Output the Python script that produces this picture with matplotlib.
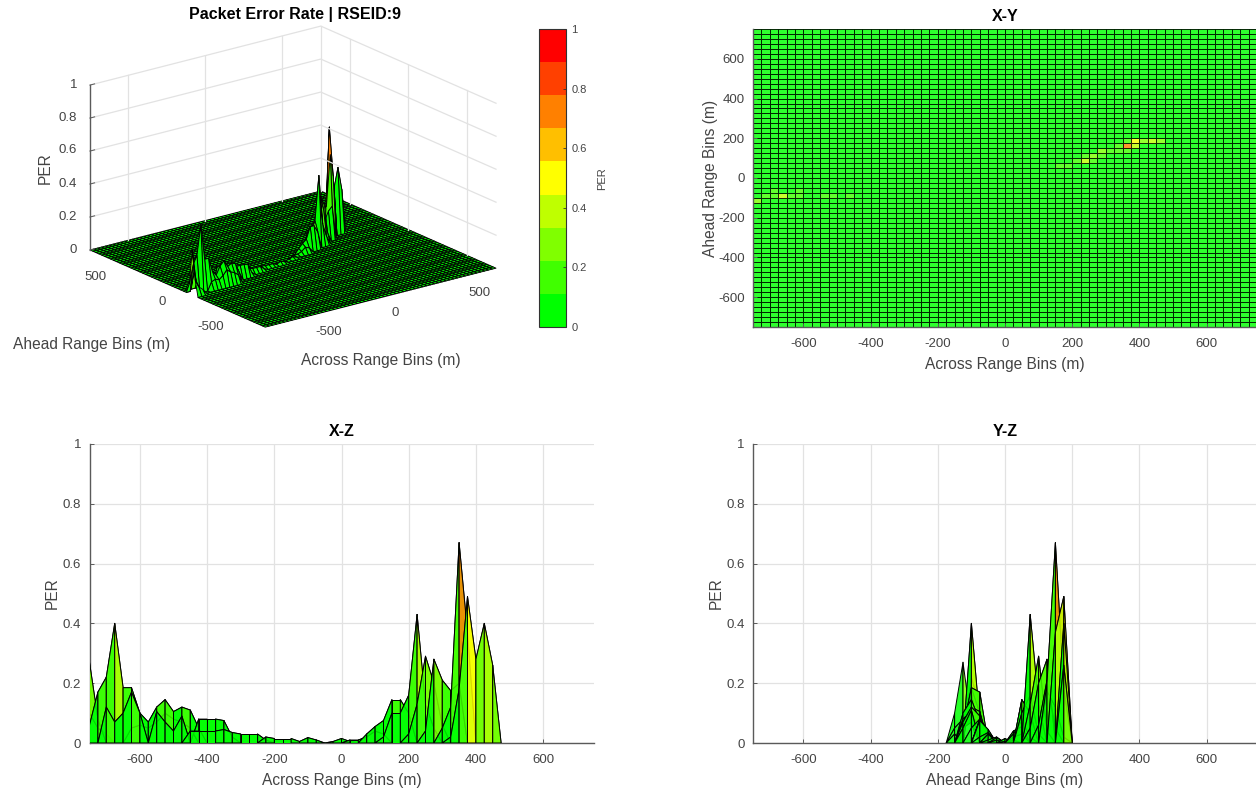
import numpy as np
import matplotlib
matplotlib.use('Agg')
from matplotlib import pyplot as plt
from matplotlib.colors import ListedColormap, Normalize
from matplotlib.cm import ScalarMappable
from matplotlib.collections import PolyCollection
from mpl_toolkits.mplot3d import proj3d

plt.rcParams['font.family'] = ['Liberation Sans', 'DejaVu Sans']
plt.rcParams['axes.unicode_minus'] = False

W, H = 1256, 792

bins = np.arange(-750, 751, 25)
per_colors = ['#00ff00', '#40ff00', '#80ff00', '#bfff00', '#ffff00',
              '#ffbf00', '#ff8000', '#ff4000', '#ff0000']
per_ticks = [0, 0.2, 0.4, 0.6, 0.8, 1]
per_ticklabels = ['0', '0.2', '0.4', '0.6', '0.8', '1']
range_ticks = [-600, -400, -200, 0, 200, 400, 600]

# non zero cells, one row of the surface per line (everything else is 0)
row_m150_x = [-750, -725, -700]
row_m150_per = [0.10, 0.05, 0.03]
row_m125_x = [-750, -725, -700, -625, -600, -575, -550, -525, -500, -475, -450]
row_m125_per = [0.27, 0.08, 0.0, 0.05, 0.06, 0.05, 0.07, 0.10, 0.08, 0.07, 0.05]
row_m100_x = [-750, -725, -700, -675, -650, -625, -600, -575, -550, -525, -500, -475, -450, -425]
row_m100_per = [0.06, 0.17, 0.22, 0.40, 0.185, 0.185, 0.10, 0.07, 0.12, 0.145, 0.105, 0.12, 0.11, 0.05]
row_m75_x = [-700, -675, -650, -625, -600, -575, -550, -525, -500, -475, -450, -425, -400, -375, -350, -325]
row_m75_per = [0.12, 0.07, 0.10, 0.17, 0.10, 0.0, 0.105, 0.07, 0.04, 0.09, 0.0, 0.08, 0.08, 0.08, 0.075, 0.02]
row_m50_x = [-450, -425, -400, -375, -350, -325, -300, -275, -250, -225]
row_m50_per = [0.04, 0.04, 0.04, 0.04, 0.045, 0.035, 0.03, 0.03, 0.03, 0.01]
row_m25_x = [-225, -200, -175, -150, -125, -100, -75, -50]
row_m25_per = [0.02, 0.015, 0.015, 0.015, 0.005, 0.018, 0.01, 0.0]
row_0_x = [-25, 0, 25]
row_0_per = [0.005, 0.015, 0.005]
row_p25_x = [25, 50, 75, 100, 125, 150]
row_p25_per = [0.01, 0.01, 0.02, 0.04, 0.03, 0.0]
row_p50_x = [75, 100, 125, 150, 175, 200, 225]
row_p50_per = [0.03, 0.055, 0.075, 0.145, 0.145, 0.10, 0.0]
row_p75_x = [125, 150, 175, 200, 225, 250, 275, 300]
row_p75_per = [0.02, 0.10, 0.10, 0.16, 0.43, 0.13, 0.05, 0.0]
row_p100_x = [200, 225, 250, 275, 300, 325]
row_p100_per = [0.03, 0.13, 0.29, 0.20, 0.06, 0.0]
row_p125_x = [250, 275, 300, 325, 350, 375]
row_p125_per = [0.04, 0.28, 0.21, 0.175, 0.20, 0.0]
row_p150_x = [300, 325, 350, 375, 400]
row_p150_per = [0.05, 0.12, 0.67, 0.37, 0.0]
row_p175_x = [325, 350, 375, 400, 425, 450, 475]
row_p175_per = [0.02, 0.18, 0.49, 0.28, 0.40, 0.26, 0.0]

rows = [(-150, row_m150_x, row_m150_per), (-125, row_m125_x, row_m125_per),
        (-100, row_m100_x, row_m100_per), (-75, row_m75_x, row_m75_per),
        (-50, row_m50_x, row_m50_per), (-25, row_m25_x, row_m25_per),
        (0, row_0_x, row_0_per), (25, row_p25_x, row_p25_per),
        (50, row_p50_x, row_p50_per), (75, row_p75_x, row_p75_per),
        (100, row_p100_x, row_p100_per), (125, row_p125_x, row_p125_per),
        (150, row_p150_x, row_p150_per), (175, row_p175_x, row_p175_per)]

Z = np.zeros((len(bins), len(bins)))
for row_y, row_x, row_per in rows:
    for x, p in zip(row_x, row_per):
        Z[np.searchsorted(bins, row_y), np.searchsorted(bins, x)] = p
X, Y = np.meshgrid(bins, bins)

cmap = ListedColormap(per_colors)
norm = Normalize(0, 1)
GRID = '#e2e2e2'
TXT = '#444444'
AXC = '#5a5a5a'


def px_axes(left, top, right, bottom, **kw):
    return fig.add_axes([left / W, 1 - bottom / H, (right - left) / W, (bottom - top) / H], **kw)


def px_text(x, y, s, **kw):
    kw.setdefault('ha', 'center')
    kw.setdefault('va', 'center')
    kw.setdefault('color', TXT)
    fig.text(x / W, 1 - y / H, s, **kw)


def style_2d(ax):
    for side in ['top', 'right']:
        ax.spines[side].set_visible(False)
    for side in ['left', 'bottom']:
        ax.spines[side].set_color(AXC)
        ax.spines[side].set_linewidth(1.0)
    ax.tick_params(direction='in', length=3, width=0.7, color=AXC, labelcolor=TXT,
                   labelsize=9.5, pad=6)
    ax.tick_params(axis='x', pad=8)
    ax.set_xlim(-750, 750)
    ax.set_xticks(range_ticks)


def side_view(ax, along, heights, xlabel, title):
    # surface seen edge on, last rows stay on top like in the original
    style_2d(ax)
    ax.set_ylim(0, 1)
    ax.set_yticks(per_ticks)
    ax.set_yticklabels(per_ticklabels)
    ax.grid(True, color=GRID, linewidth=0.9)
    ax.set_axisbelow(True)
    polys = []
    faces = []
    for j in range(len(bins) - 1):
        for i in range(len(bins) - 1):
            polys.append([(along[j, i], heights[j, i]), (along[j, i + 1], heights[j, i + 1]),
                          (along[j + 1, i + 1], heights[j + 1, i + 1]),
                          (along[j + 1, i], heights[j + 1, i])])
            faces.append(heights[j, i])
    face_rgba = cmap(norm(np.array(faces)))
    face_rgba[:, 3] = 0.85
    ax.add_collection(PolyCollection(polys, facecolors=face_rgba, edgecolors='k',
                                     linewidths=0.7, clip_on=True, zorder=3))
    ax.set_title(title, fontsize=11.5, fontweight='bold', color='k', pad=6)
    ax.set_xlabel(xlabel, fontsize=11.2, color=TXT, labelpad=5)
    ax.set_ylabel('PER', fontsize=11.2, color=TXT, labelpad=2)


fig = plt.figure(figsize=(W / 100, H / 100), dpi=100)

# surface
ax3 = px_axes(0, 0, 500, 500, projection='3d', proj_type='ortho', computed_zorder=False)
ax3.set_xlim(-750, 750, view_margin=0)
ax3.set_ylim(-750, 750, view_margin=0)
ax3.set_zlim(0, 1, view_margin=0)
ax3.view_init(elev=19.6, azim=-127.3)
ax3.set_box_aspect((290, 289, 175))
ax3.set_axis_off()


def corner_px(x, y, z):
    ax3.apply_aspect()
    xs, ys, _ = proj3d.proj_transform(x, y, z, ax3.get_proj())
    return ax3.transData.transform((xs, ys))


# fit the box on the wanted corners of the floor
left_c = corner_px(-750, 750, 0)
right_c = corner_px(750, -750, 0)
scale = (496 - 90) / (right_c[0] - left_c[0])
side = 500 * scale
ax3.set_position([0, 0, side / W, side / H])
left_c = corner_px(-750, 750, 0)
ax3.set_position([(90 - left_c[0]) / W, ((H - 250) - left_c[1]) / H, side / W, side / H])

for z in per_ticks[1:]:
    ax3.plot([-750, 750, 750], [750, 750, -750], [z, z, z], color=GRID, lw=0.9)
for t in [-500, 0, 500]:
    ax3.plot([t, t], [750, 750], [0, 1], color=GRID, lw=0.9)
    ax3.plot([750, 750], [t, t], [0, 1], color=GRID, lw=0.9)
ax3.plot([750, 750], [750, 750], [0, 1], color=GRID, lw=0.9)
ax3.plot([-750, -750], [750, 750], [0, 1], color=AXC, lw=1.0)
for z in per_ticks:
    ax3.plot([-750, -720], [750, 750], [z, z], color=AXC, lw=0.7)
ax3.plot_surface(X, Y, Z, facecolors=cmap(norm(Z)), rstride=1, cstride=1, shade=False,
                 edgecolor='k', linewidth=0.65, antialiased=True)

px_text(295, 15, 'Packet Error Rate | RSEID:9', fontsize=11.5, fontweight='bold', color='k')
for z_lab, y_px in zip(per_ticklabels, [250, 217, 184, 150, 118, 85]):
    px_text(77, y_px, z_lab, fontsize=9.5, ha='right')
for s, x_px, y_px in [('500', 95, 277), ('0', 162, 302), ('-500', 211, 327),
                      ('-500', 329, 332), ('0', 395, 313), ('500', 479, 293)]:
    px_text(x_px, y_px, s, fontsize=9.5)
px_text(92, 344, 'Ahead Range Bins (m)', fontsize=11.2)
px_text(381, 360, 'Across Range Bins (m)', fontsize=11.2)
px_text(45, 168, 'PER', fontsize=11.2, rotation=90)

# colorbar
cax = px_axes(539, 29, 566, 327)
cb = fig.colorbar(ScalarMappable(norm=norm, cmap=cmap), cax=cax, ticks=per_ticks)
cb.ax.set_yticklabels(per_ticklabels)
cb.ax.tick_params(direction='in', length=2.5, width=0.6, color='#333333', labelcolor=TXT,
                  labelsize=8, pad=4)
cb.outline.set_edgecolor('#333333')
cb.outline.set_linewidth(0.8)
px_text(602, 179, 'PER', fontsize=8, rotation=90)

# X-Y
ax_xy = px_axes(753, 29, 1257, 327)
style_2d(ax_xy)
ax_xy.set_ylim(-750, 750)
ax_xy.set_yticks(range_ticks)
ax_xy.pcolormesh(X, Y, Z[:-1, :-1], cmap=cmap, norm=norm, edgecolors='k', linewidth=0.7,
                 alpha=0.82)
ax_xy.set_title('X-Y', fontsize=11.5, fontweight='bold', color='k', pad=6)
ax_xy.set_xlabel('Across Range Bins (m)', fontsize=11.2, color=TXT, labelpad=5)
ax_xy.set_ylabel('Ahead Range Bins (m)', fontsize=11.2, color=TXT, labelpad=0)

# X-Z and Y-Z
ax_xz = px_axes(89.5, 444, 593.5, 743)
side_view(ax_xz, X, Z, 'Across Range Bins (m)', 'X-Z')
ax_yz = px_axes(753, 444, 1257, 743)
side_view(ax_yz, Y.T, Z.T, 'Ahead Range Bins (m)', 'Y-Z')

fig.savefig('out.png', dpi=100)
